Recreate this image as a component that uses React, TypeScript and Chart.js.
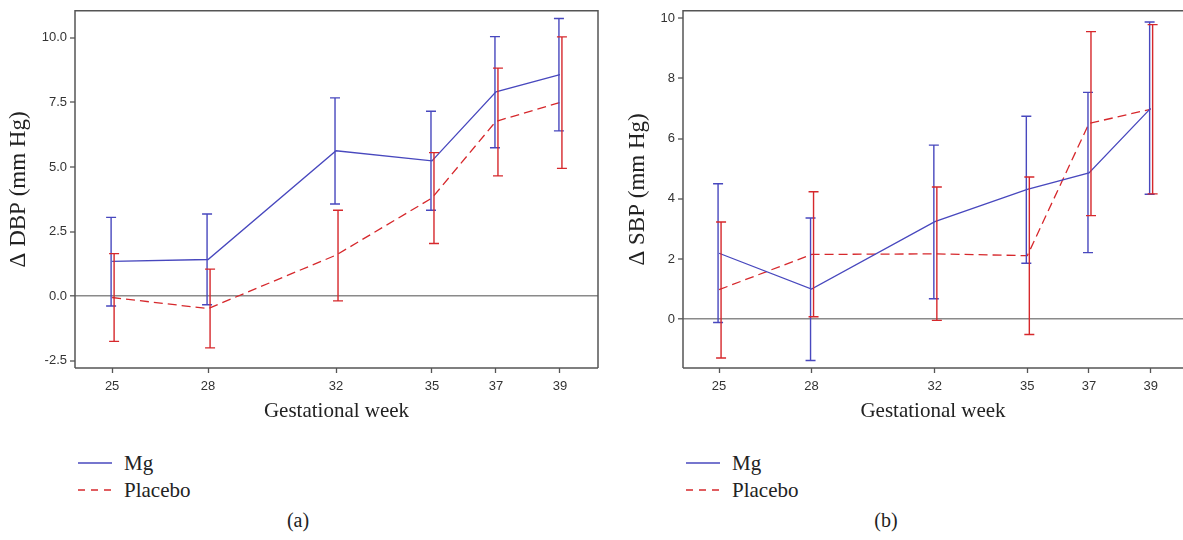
import React, { useEffect, useRef } from "react";
import { Chart, registerables } from "chart.js";

Chart.register(...registerables);

// ---------- data ----------
const weeks = [25, 28, 32, 35, 37, 39];

// Panel (a): change in DBP
const dbpMg = [1.35, 1.42, 5.63, 5.24, 7.91, 8.58];
const dbpMgLow = [-0.38, -0.33, 3.57, 3.33, 5.75, 6.4];
const dbpMgHigh = [3.05, 3.18, 7.68, 7.16, 10.05, 10.75];
const dbpPlacebo = [-0.05, -0.48, 1.59, 3.8, 6.77, 7.5];
const dbpPlaceboLow = [-1.75, -2.0, -0.18, 2.04, 4.66, 4.95];
const dbpPlaceboHigh = [1.65, 1.05, 3.33, 5.56, 8.83, 10.04];
const dbpTicks = [-2.5, 0, 2.5, 5, 7.5, 10];

// Panel (b): change in SBP
const sbpMg = [2.19, 1.0, 3.24, 4.31, 4.86, 7.0];
const sbpMgLow = [-0.11, -1.37, 0.68, 1.86, 2.21, 4.15];
const sbpMgHigh = [4.5, 3.36, 5.78, 6.74, 7.53, 9.87];
const sbpPlacebo = [0.98, 2.15, 2.17, 2.11, 6.5, 6.97];
const sbpPlaceboLow = [-1.29, 0.08, -0.04, -0.51, 3.44, 4.16];
const sbpPlaceboHigh = [3.23, 4.23, 4.39, 4.72, 9.55, 9.78];
const sbpTicks = [0, 2, 4, 6, 8, 10];

const seriesNames = ["Mg", "Placebo"];

// ---------- styles ----------
const BLUE = "rgb(72,72,190)";
const RED = "rgb(214,40,44)";
const AXIS = "#555";
const SERIF = "'Liberation Serif', 'DejaVu Serif', serif";
const SANS = "'Liberation Sans', Arial, sans-serif";

const errorBarPlugin = {
  id: "errorBars",
  afterDatasetsDraw(chart: any) {
    const { ctx } = chart;
    const xs = chart.scales.x;
    const ys = chart.scales.y;
    chart.data.datasets.forEach((ds: any) => {
      const low: number[] = ds.errLow;
      const high: number[] = ds.errHigh;
      if (!low || !high) return;
      ctx.save();
      ctx.strokeStyle = ds.borderColor;
      ctx.lineWidth = 1.4;
      ctx.setLineDash([]);
      ds.data.forEach((pt: any, i: number) => {
        const x = xs.getPixelForValue(pt.x) + (ds.errDx || 0);
        const y1 = ys.getPixelForValue(low[i]);
        const y2 = ys.getPixelForValue(high[i]);
        ctx.beginPath();
        ctx.moveTo(x, y1);
        ctx.lineTo(x, y2);
        ctx.moveTo(x - 5, y1);
        ctx.lineTo(x + 5, y1);
        ctx.moveTo(x - 5, y2);
        ctx.lineTo(x + 5, y2);
        ctx.stroke();
      });
      ctx.restore();
    });
  },
};

const framePlugin = {
  id: "frame",
  afterDraw(chart: any, _args: any, opts: any) {
    const { ctx, chartArea: a } = chart;
    ctx.save();
    ctx.strokeStyle = AXIS;
    ctx.lineWidth = 1.5;
    ctx.beginPath();
    ctx.moveTo(a.left, a.bottom);
    ctx.lineTo(a.left, a.top);
    ctx.lineTo(a.right, a.top);
    if (opts.right) ctx.lineTo(a.right, a.bottom);
    ctx.moveTo(a.left, a.bottom);
    ctx.lineTo(a.right, a.bottom);
    ctx.stroke();
    ctx.restore();
  },
};

type PanelProps = {
  mg: number[];
  mgLow: number[];
  mgHigh: number[];
  pl: number[];
  plLow: number[];
  plHigh: number[];
  yTicks: number[];
  yMin: number;
  yMax: number;
  xMin: number;
  xMax: number;
  yTitle: string;
  decimals: number;
  yAxisWidth: number;
  yTitlePad: number;
  padTop: number;
  padRight: number;
  frameRight: boolean;
  width: number;
};

function Panel(p: PanelProps) {
  const ref = useRef<HTMLCanvasElement>(null);
  useEffect(() => {
    if (!ref.current) return;
    const toPts = (vals: number[]) => weeks.map((w, i) => ({ x: w, y: vals[i] }));
    const chart = new Chart(ref.current, {
      type: "line",
      data: {
        datasets: [
          {
            label: seriesNames[0],
            data: toPts(p.mg),
            borderColor: BLUE,
            borderWidth: 1.3,
            pointRadius: 0,
            tension: 0,
            errLow: p.mgLow,
            errHigh: p.mgHigh,
            errDx: -1,
          } as any,
          {
            label: seriesNames[1],
            data: toPts(p.pl),
            borderColor: RED,
            borderWidth: 1.3,
            borderDash: [9, 5],
            pointRadius: 0,
            tension: 0,
            errLow: p.plLow,
            errHigh: p.plHigh,
            errDx: 2,
          } as any,
        ],
      },
      options: {
        animation: false,
        responsive: false,
        maintainAspectRatio: false,
        layout: { padding: { top: p.padTop, right: p.padRight, left: 0, bottom: 0 } },
        plugins: {
          legend: { display: false },
          tooltip: { enabled: false },
          frame: { right: p.frameRight },
        } as any,
        scales: {
          x: {
            type: "linear",
            min: p.xMin,
            max: p.xMax,
            afterBuildTicks: (s: any) => {
              s.ticks = weeks.map((v) => ({ value: v }));
            },
            afterFit: (s: any) => {
              s.height = 72;
            },
            grid: { drawOnChartArea: false, tickLength: 5, tickColor: AXIS, tickWidth: 1.3 },
            border: { display: false },
            ticks: {
              color: "#333",
              font: { family: SANS, size: 13 },
              padding: 6,
              maxRotation: 0,
              callback: (v: any) => String(v),
            },
            title: {
              display: true,
              text: "Gestational week",
              color: "#222",
              font: { family: SERIF, size: 21 },
              padding: 16,
            },
          },
          y: {
            type: "linear",
            min: p.yMin,
            max: p.yMax,
            afterBuildTicks: (s: any) => {
              s.ticks = p.yTicks.map((v) => ({ value: v }));
            },
            afterFit: (s: any) => {
              s.width = p.yAxisWidth;
            },
            grid: {
              drawOnChartArea: true,
              color: (c: any) => (c.tick && c.tick.value === 0 ? "#8a8a8a" : "rgba(0,0,0,0)"),
              lineWidth: (c: any) => (c.tick && c.tick.value === 0 ? 1.6 : 0),
              tickLength: 5,
              tickColor: AXIS,
              tickWidth: 1.3,
            },
            border: { display: false },
            ticks: {
              color: "#333",
              font: { family: SANS, size: 13 },
              padding: 3,
              callback: (v: any) => Number(v).toFixed(p.decimals),
            },
            title: {
              display: true,
              text: p.yTitle,
              color: "#222",
              font: { family: SERIF, size: 23 },
              padding: p.yTitlePad,
            },
          },
        },
      },
      plugins: [errorBarPlugin, framePlugin],
    } as any);
    return () => chart.destroy();
  }, []);
  return <canvas ref={ref} width={p.width} height={440} style={{ display: "block", width: p.width, height: 440 }} />;
}

function Legend({ left, caption, captionX }: { left: number; caption: string; captionX: number }) {
  const rowStyle: React.CSSProperties = {
    position: "absolute",
    left,
    height: 24,
    display: "flex",
    alignItems: "center",
    fontFamily: SERIF,
    fontSize: 21,
    color: "#222",
  };
  return (
    <>
      <div style={{ ...rowStyle, top: 451 }}>
        <svg width={48} height={10} style={{ display: "block" }}>
          <line x1={2} y1={5} x2={36} y2={5} stroke={BLUE} strokeWidth={1.3} />
        </svg>
        <span>{seriesNames[0]}</span>
      </div>
      <div style={{ ...rowStyle, top: 478 }}>
        <svg width={48} height={10} style={{ display: "block" }}>
          <line x1={2} y1={5} x2={36} y2={5} stroke={RED} strokeWidth={1.3} strokeDasharray="7 6" />
        </svg>
        <span>{seriesNames[1]}</span>
      </div>
      <div
        style={{
          position: "absolute",
          left: captionX - 40,
          width: 80,
          top: 509,
          textAlign: "center",
          fontFamily: SERIF,
          fontSize: 20,
          color: "#222",
        }}
      >
        {caption}
      </div>
    </>
  );
}

export default function App() {
  return (
    <div style={{ position: "absolute", left: 0, top: 0, width: 1183, height: 540, background: "#fff", overflow: "hidden" }}>
      <div style={{ position: "absolute", left: 0, top: 0 }}>
        <Panel
          mg={dbpMg}
          mgLow={dbpMgLow}
          mgHigh={dbpMgHigh}
          pl={dbpPlacebo}
          plLow={dbpPlaceboLow}
          plHigh={dbpPlaceboHigh}
          yTicks={dbpTicks}
          yMin={-2.78}
          yMax={11.05}
          xMin={23.84}
          xMax={40.19}
          yTitle="Δ DBP (mm Hg)"
          decimals={1}
          yAxisWidth={75}
          yTitlePad={5}
          padTop={7}
          padRight={2}
          frameRight={true}
          width={600}
        />
      </div>
      <div style={{ position: "absolute", left: 600, top: 0 }}>
        <Panel
          mg={sbpMg}
          mgLow={sbpMgLow}
          mgHigh={sbpMgHigh}
          pl={sbpPlacebo}
          plLow={sbpPlaceboLow}
          plHigh={sbpPlaceboHigh}
          yTicks={sbpTicks}
          yMin={-1.62}
          yMax={10.24}
          xMin={23.83}
          xMax={40.05}
          yTitle="Δ SBP (mm Hg)"
          decimals={0}
          yAxisWidth={83}
          yTitlePad={24}
          padTop={9}
          padRight={0}
          frameRight={false}
          width={583}
        />
      </div>
      <Legend left={76} caption="(a)" captionX={298} />
      <Legend left={684} caption="(b)" captionX={886} />
    </div>
  );
}
